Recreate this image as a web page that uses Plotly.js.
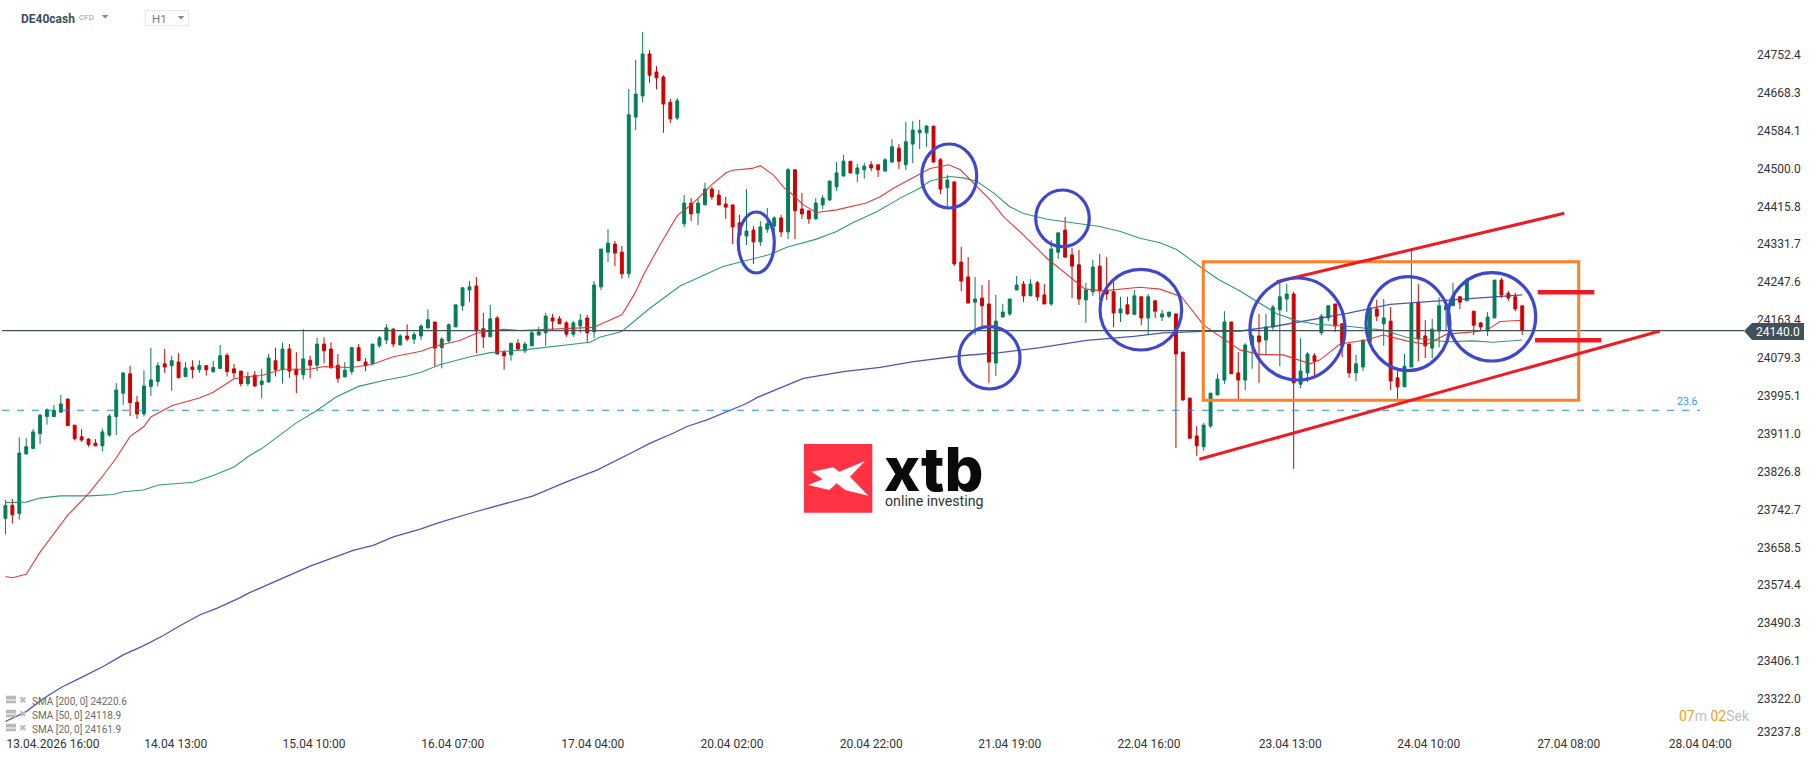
<!DOCTYPE html>
<html>
<head>
<meta charset="utf-8">
<script src="https://cdn.plot.ly/plotly-3.0.1.min.js"></script>
<style>html,body{margin:0;padding:0;background:#fff}#c{width:1816px;height:761px}</style>
</head>
<body>
<div id="c"></div>
<script>
const openPrices = [
23723,23752,23734,23866,23878,23911,23949,23949,23959,23988,
23930,23904,23899,23890,23884,23908,23949,24001,24044,23981,
23955,24016,24027,24066,24062,24070,24038,24059,24053,24062,
24049,24056,24085,24055,24050,24022,24041,24020,24026,24073,
24053,24099,24054,24042,24074,24063,24110,24099,24063,24037,
24049,24102,24070,24067,24106,24119,24143,24108,24128,24121,
24128,24146,24159,24102,24117,24148,24195,24230,24239,24144,
24126,24168,24091,24086,24112,24095,24106,24130,24135,24168,
24166,24157,24132,24150,24168,24137,24237,24314,24332,24314,
24266,24614,24661,24754,24714,24703,24647,24612,24377,24423,
24401,24419,24454,24441,24421,24419,24379,24350,24363,24337,
24365,24372,24390,24359,24497,24410,24406,24388,24419,24430,
24459,24483,24516,24488,24497,24508,24508,24494,24514,24545,
24508,24554,24579,24579,24594,24519,24457,24470,24292,24259,
24203,24212,24199,24068,24170,24177,24230,24243,24217,24246,
24219,24199,24314,24363,24308,24286,24208,24226,24283,24230,
24226,24179,24197,24176,24215,24168,24206,24170,24172,24177,
24092,23990,23906,23882,23928,23997,24030,24159,24046,24030,
24108,24128,24119,24148,24186,24210,24221,24021,24046,24084,
24135,24168,24199,24155,24110,24046,24059,24115,24188,24155,
24161,24035,24015,24059,24203,24128,24101,24139,24186,24195,
24215,24206,24183,24157,24139,24168,24252,24223,24215,24195];
const highPrices = [
23764,23766,23903,23901,23921,23955,23967,23975,23997,23988,
23930,23921,23901,23899,23922,23955,24023,24046,24062,23995,
24052,24102,24070,24099,24084,24090,24070,24074,24074,24062,
24073,24108,24090,24066,24050,24048,24050,24055,24088,24102,
24113,24110,24092,24143,24084,24124,24125,24114,24088,24070,
24103,24110,24079,24110,24128,24154,24146,24132,24154,24137,
24154,24187,24159,24125,24156,24197,24235,24250,24259,24179,
24197,24172,24097,24112,24121,24115,24139,24148,24179,24177,
24172,24161,24161,24177,24175,24250,24321,24365,24339,24328,
24676,24741,24803,24763,24727,24707,24654,24656,24441,24434,
24432,24468,24459,24452,24437,24419,24397,24454,24372,24383,
24412,24394,24397,24501,24497,24445,24406,24434,24441,24472,
24514,24530,24516,24510,24512,24516,24508,24523,24565,24554,
24603,24605,24608,24596,24594,24523,24485,24471,24326,24303,
24259,24241,24252,24219,24199,24210,24261,24250,24254,24250,
24243,24341,24357,24392,24323,24319,24246,24297,24310,24303,
24248,24215,24215,24230,24215,24221,24208,24186,24181,24177,
24092,23990,23928,23935,24001,24044,24183,24159,24092,24112,
24132,24177,24177,24197,24248,24243,24226,24123,24092,24090,
24177,24195,24199,24155,24110,24086,24119,24190,24208,24210,
24192,24050,24088,24319,24243,24163,24166,24214,24209,24246,
24215,24257,24183,24159,24181,24252,24257,24228,24224,24195];
const lowPrices = [
23687,23712,23720,23865,23878,23888,23931,23949,23957,23929,
23896,23893,23882,23884,23872,23904,23908,23975,23950,23944,
23949,23995,24016,24046,24006,24035,24038,24034,24046,24040,
24046,24056,24038,24034,24016,24017,24015,23989,24024,24038,
24022,24035,24001,24031,24034,24050,24067,24055,24024,24037,
24042,24073,24050,24065,24102,24110,24103,24108,24116,24110,
24119,24144,24060,24056,24113,24148,24184,24203,24090,24101,
24126,24088,24053,24073,24095,24090,24106,24130,24106,24141,
24155,24126,24126,24135,24112,24123,24230,24292,24283,24255,
24257,24585,24647,24690,24676,24579,24601,24607,24370,24383,
24374,24419,24430,24419,24388,24332,24352,24330,24288,24328,
24357,24355,24348,24343,24343,24388,24377,24386,24410,24428,
24450,24483,24490,24470,24477,24494,24481,24494,24514,24499,
24496,24512,24543,24548,24514,24443,24415,24283,24228,24201,
24130,24144,24024,24039,24170,24172,24230,24203,24217,24206,
24199,24195,24299,24303,24212,24197,24157,24217,24208,24208,
24148,24159,24175,24174,24152,24130,24168,24161,24168,23879,
23984,23899,23862,23873,23924,23997,24021,24044,23988,24008,
24055,24024,24084,24141,24061,24181,23833,24012,24026,24041,
24130,24161,24137,24081,24035,24028,24050,24115,24161,24106,
24008,23986,24015,24059,24072,24079,24079,24103,24141,24195,
24188,24206,24130,24141,24128,24168,24212,24206,24183,24130];
const closePrices = [
23752,23731,23868,23882,23915,23952,23964,23963,23977,23929,
23900,23897,23887,23884,23915,23950,24008,24046,23980,23955,
24017,24030,24062,24059,24073,24035,24057,24053,24062,24053,
24058,24084,24049,24046,24022,24038,24017,24028,24079,24053,
24099,24050,24042,24077,24063,24110,24095,24058,24034,24052,
24102,24073,24062,24110,24124,24146,24110,24128,24121,24131,
24150,24164,24101,24121,24153,24197,24235,24237,24139,24126,
24166,24088,24084,24112,24099,24110,24135,24137,24172,24161,
24155,24132,24157,24163,24135,24241,24321,24334,24312,24266,
24619,24665,24754,24707,24701,24643,24610,24650,24423,24399,
24423,24454,24437,24419,24414,24370,24352,24361,24337,24370,
24377,24390,24359,24497,24406,24399,24388,24423,24434,24472,
24490,24516,24490,24501,24505,24501,24497,24519,24548,24516,
24559,24585,24585,24594,24514,24454,24474,24288,24250,24201,
24210,24195,24070,24161,24181,24210,24241,24217,24243,24215,
24199,24321,24357,24303,24283,24210,24230,24281,24228,24221,
24179,24188,24177,24217,24168,24215,24183,24177,24181,24088,
23986,23901,23884,23930,24001,24032,24159,24044,24030,24108,
24128,24115,24148,24192,24215,24221,24024,24050,24088,24072,
24172,24195,24150,24106,24046,24066,24119,24190,24172,24168,
24028,24015,24061,24200,24121,24106,24143,24195,24195,24215,
24203,24252,24152,24148,24170,24252,24219,24212,24188,24140];

const sma20Pos = [0,1,3,5,7,9,10,12,14,16,18,20,21,24,28,30,33,35,37,40,44,46,50,53,56,60,62,65.6,68,71.9,74.3,78.1,81,84.9,86.8,89,90.9,92.1,94.5,97,99.3,101.9,104.1,105,107.8,109,110.9,112.3,113.7,115.2,117.1,120,124.3,126.3,128.2,131.1,133.5,136.2,137.9,140.3,142.2,144.1,147,150.4,154,155.9,158.5,161,163.8,166.7,169.8,173,175.4,178.25,181.1,184.5,188.4,189.8,192.7,196.5,198.9,202.3,205.2,208.1,211.9,213.9,215.8,219];
const sma20Val = [23594,23591,23599,23648,23689,23730,23746,23778,23816,23857,23905,23927,23948,23973,23990,24003,24033,24038,24040,24054,24054,24060,24058,24065,24082,24094,24105,24118,24134,24143,24140,24143,24145,24147,24160,24175,24223,24263,24330,24395,24423,24463,24491,24496,24500,24506,24485,24459,24441,24419,24402,24408,24423,24437,24456,24480,24500,24508,24497,24459,24430,24393,24352,24300,24256,24232,24228,24232,24236,24232,24215,24152,24126,24097,24087,24086,24066,24075,24110,24119,24130,24117,24109,24132,24137,24141,24160,24163];
const sma50Pos = [0,3,5,7.9,12.2,15.6,17,19.9,22.1,27.1,30,33,35.1,37.2,42,44.9,47.8,51,54.6,58,60.1,62.7,67.1,70,74.8,79.6,84.4,85.8,89,93,97.4,103.6,110.4,112.8,117.1,120,122.4,125.8,129.2,132,133.5,136.2,138.3,140.3,142.7,145,147,150.4,153.7,158,161,163.8,166.7,169.1,173,175.1,178.25,181.1,183.5,186.4,189.3,194.1,198.9,202.3,205.7,208.1,211.9,214.8,219];
const sma50Val = [23758,23759,23768,23773,23773,23776,23782,23786,23797,23803,23818,23837,23861,23880,23935,23962,23993,24016,24029,24039,24048,24064,24082,24091,24097,24106,24114,24125,24138,24189,24239,24282,24309,24325,24343,24360,24380,24404,24434,24456,24472,24482,24479,24471,24445,24415,24400,24387,24380,24371,24360,24345,24335,24320,24276,24254,24228,24201,24178,24162,24154,24149,24141,24125,24119,24115,24117,24114,24119];
const sma200Pos = [0,3,5.5,8.1,11,14.1,17,19.9,22.8,25,28.1,30.5,33.9,35.1,44,50.2,53.1,56,59.9,62.7,67.5,71.4,76.2,81,85.4,90.2,93.1,96.4,98.4,101.2,104.6,107,108.5,115.2,118,121,126.3,131.1,137.9,143.6,149.4,156.1,162.9,167.2,173,178.25,183.1,188.8,193.7,199.9,207.1,211.9,214.8,219];
const sma200Val = [23272,23294,23323,23348,23370,23394,23420,23440,23463,23483,23509,23523,23547,23557,23617,23652,23663,23682,23699,23714,23736,23753,23773,23804,23830,23867,23890,23912,23927,23941,23962,23978,23991,24034,24041,24049,24058,24071,24084,24091,24102,24118,24127,24135,24138,24139,24149,24165,24178,24198,24206,24212,24215,24219];

const yTickVals = [24752.4,24668.3,24584.1,24500.0,24415.8,24331.7,24247.6,24163.4,24079.3,23995.1,23911.0,23826.8,23742.7,23658.5,23574.4,23490.3,23406.1,23322.0];
const yTickText = ["24752.4","24668.3","24584.1","24500.0","24415.8","24331.7","24247.6","24163.4","24079.3","23995.1","23911.0","23826.8","23742.7","23658.5","23574.4","23490.3","23406.1","23322.0"];
const xTickPos = [6.87,24.6,44.55,64.6,84.8,104.9,125,145,165.1,185.5,205.5,225.7,244.7];
const xTickText = ["13.04.2026 16:00","14.04 13:00","15.04 10:00","16.04 07:00","17.04 04:00","20.04 02:00","20.04 22:00","21.04 19:00","22.04 16:00","23.04 13:00","24.04 10:00","27.04 08:00","28.04 04:00"];
const smaLegend = ["SMA [200, 0] 24220.6","SMA [50, 0] 24118.9","SMA [20, 0] 24161.9"];
const lastPrice = 24140.0;
const fibPrice = 23963;

const indexAxis = openPrices.map((_, i) => i);

const PW = 1744, PH = 735;
const X = p => p / PW;
const Y = p => 1 - p / PH;
const rect = (x0, y0, x1, y1, extra) => Object.assign({type:'rect', xref:'paper', yref:'paper', x0:X(x0), x1:X(x1), y0:Y(y0), y1:Y(y1), layer:'above'}, extra);
const seg = (x0, y0, x1, y1, color, width) => ({type:'line', xref:'paper', yref:'paper', x0:X(x0), x1:X(x1), y0:Y(y0), y1:Y(y1), layer:'above', line:{color, width}});
const poly = (pts, fill) => ({type:'path', xref:'paper', yref:'paper', layer:'above', fillcolor:fill, line:{width:0},
  path:'M' + pts.map(p => X(p[0]) + ',' + Y(p[1])).join(' L') + ' Z'});
const circle = (x0, y0, x1, y1) => ({type:'circle', xref:'paper', yref:'paper', x0:X(x0), x1:X(x1), y0:Y(y0), y1:Y(y1), layer:'above', line:{color:'#3f48cc', width:3.2}});
const note = (text, px, py, size, color, anchor, extra) => Object.assign({text, x:X(px), y:Y(py), xref:'paper', yref:'paper', showarrow:false, xanchor:anchor||'left', yanchor:'middle', borderpad:0, font:{family:'Roboto, sans-serif', size, color}}, extra);

const shapes = [
  {type:'line', xref:'paper', yref:'y', x0:X(2), x1:1, y0:lastPrice, y1:lastPrice, layer:'above', line:{color:'#44525c', width:1.2}},
  {type:'line', xref:'paper', yref:'y', x0:X(2), x1:X(1700), y0:fibPrice, y1:fibPrice, layer:'above', line:{color:'#1e90ff', width:1.2, dash:'7px,8px'}},
  rect(1203.3, 261.7, 1578.7, 400.3, {line:{color:'#ff7f27', width:3}}),
  seg(1276.7, 281.7, 1564.3, 213.3, '#ed1c24', 3),
  seg(1199.3, 459.3, 1660, 331, '#ed1c24', 3),
  seg(1537.7, 292.3, 1594.3, 292.3, '#ed1c24', 4.5),
  seg(1535, 340.3, 1601.3, 340.3, '#ed1c24', 4.5),
  circle(738.3, 212, 774.3, 273),
  circle(921.7, 144, 976.7, 208),
  circle(1035.7, 190, 1089.3, 246.7),
  circle(959, 326.7, 1020, 389),
  circle(1100, 269.3, 1181.7, 350),
  circle(1250, 278, 1345, 380),
  circle(1366, 276.7, 1450, 370.7),
  circle(1448, 272.7, 1535.7, 361),
  // xtb logo
  rect(804, 444, 872.3, 512.7, {fillcolor:'#ff3344', line:{width:0}}),
  poly([[811.7,471.7],[833.3,467.3],[839.3,471.7],[865,461],[850,476.7],[868.3,495.7],[845,490],[836.7,483.3],[829.3,490],[808.3,485],[822.7,479.3]], '#ffffff'),
  // price flag
  poly([[1744,331],[1752,323],[1804,323],[1804,340],[1752,340]], '#41505a'),
  // header controls
  poly([[101.7,15],[108.7,15],[105.2,18.5]], '#8a8a8a'),
  rect(145.3, 10.7, 188.7, 25.7, {line:{color:'#e4e4e4', width:1}}),
  poly([[177.7,16],[184.3,16],[181,19.5]], '#8a8a8a'),
  // legend icons
  rect(6, 695.7, 16, 703.3, {fillcolor:'#b9b9b9', line:{width:0}}),
  rect(6, 709.7, 16, 717.3, {fillcolor:'#b9b9b9', line:{width:0}}),
  rect(6, 723.7, 16, 731.3, {fillcolor:'#b9b9b9', line:{width:0}}),
  seg(6, 700, 16, 700, '#ffffff', 1),
  seg(6, 714, 16, 714, '#ffffff', 1),
  seg(6, 728, 16, 728, '#ffffff', 1)
];

const annotations = [
  note('<b>DE40cash</b>', 19.5, 18.5, 12, '#3f4c56'),
  note('CFD', 78, 18, 8, '#9a9a9a'),
  note('H1', 151, 19, 11.5, '#777777'),
  note('23.6', 1687, 401, 10.5, '#2a9df4', 'center'),
  note('24140.0', 1778, 331.5, 12, '#ffffff', 'center'),
  note('23237.8', 1756, 731.7, 12, '#333333'),
  note('<span style="color:#ff9a1f">07</span>m <span style="color:#ff9a1f">02</span>Sek', 1678, 716, 14, '#bdbdbd'),
  note('xtb', 883, 469, 61, '#0a0a0a', 'left', {font:{family:'Inter, "Liberation Sans", sans-serif', size:61, color:'#0a0a0a', weight:800}}),
  note('online investing', 884, 501, 14.2, '#333333'),
  note(smaLegend[0], 31, 701, 10, '#6a6a6a'),
  note(smaLegend[1], 31, 715, 10, '#6a6a6a'),
  note(smaLegend[2], 31, 729, 10, '#6a6a6a'),
  note('✖', 23, 699.5, 9, '#b9b9b9', 'center'),
  note('✖', 23, 713.5, 9, '#b9b9b9', 'center'),
  note('✖', 23, 727.5, 9, '#b9b9b9', 'center')
];

const candleTrace = {
  type:'candlestick', x:indexAxis, open:openPrices, high:highPrices, low:lowPrices, close:closePrices,
  whiskerwidth:0, hoverinfo:'skip', showlegend:false,
  increasing:{line:{color:'#047f55', width:1}, fillcolor:'#047f55'},
  decreasing:{line:{color:'#cf0000', width:1}, fillcolor:'#cf0000'}
};
const smaLine = (x, y, color, width) => ({type:'scatter', mode:'lines', x, y, line:{color, width}, opacity:0.92, hoverinfo:'skip', showlegend:false});

const data = [
  candleTrace,
  smaLine(sma200Pos, sma200Val, '#3d48ad', 1.3),
  smaLine(sma50Pos, sma50Val, '#1f9070', 1.1),
  smaLine(sma20Pos, sma20Val, '#e02b2b', 1.1)
];

const layout = {
  width:1816, height:761,
  margin:{l:0, r:72, t:0, b:26, pad:0},
  paper_bgcolor:'#ffffff', plot_bgcolor:'#ffffff',
  showlegend:false, boxgap:0.4,
  font:{family:'Roboto, sans-serif', size:12, color:'#333333'},
  xaxis:{type:'linear', range:[-0.785, 251.02], rangeslider:{visible:false}, showgrid:false, zeroline:false, showline:false,
    ticks:'', tickmode:'array', tickvals:xTickPos, ticktext:xTickText, tickangle:0,
    tickfont:{family:'Roboto, sans-serif', size:12, color:'#333333'}},
  yaxis:{type:'linear', side:'right', range:[23242.0, 24873.9], showgrid:false, zeroline:false, showline:false,
    ticks:'', ticklabelstandoff:12, ticklabelshift:1.5, tickmode:'array', tickvals:yTickVals, ticktext:yTickText,
    tickfont:{family:'Roboto, sans-serif', size:12, color:'#333333'}},
  shapes, annotations
};

Plotly.newPlot('c', data, layout, {staticPlot:true, displayModeBar:false});
</script>
</body>
</html>
